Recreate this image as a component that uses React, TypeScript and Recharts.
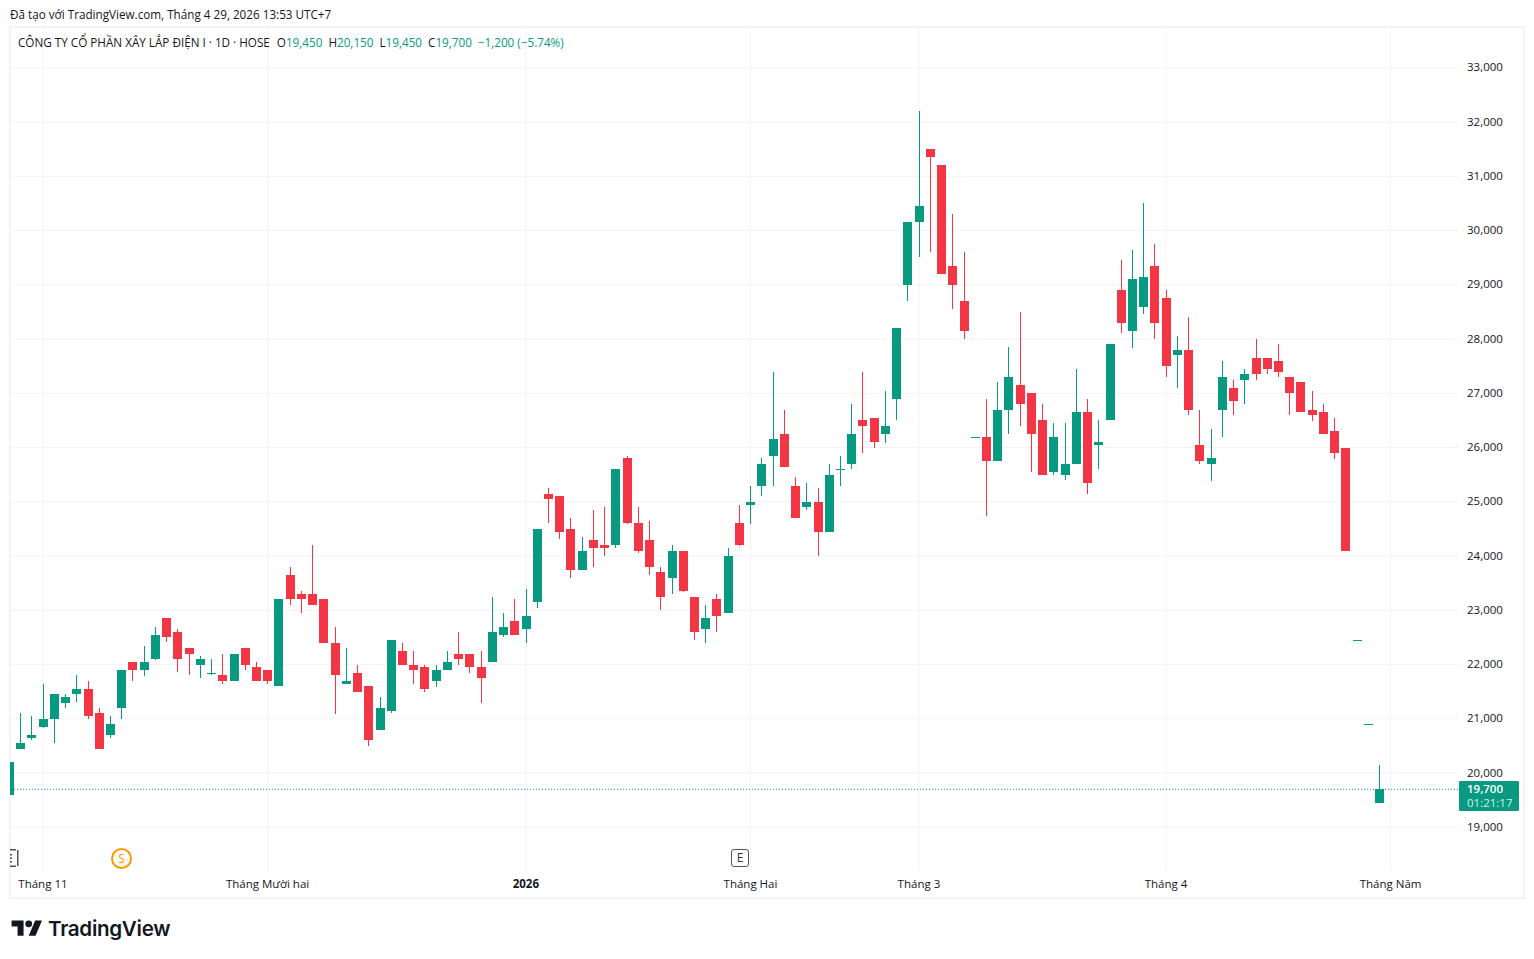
import React from 'react';
import { Bar, CartesianGrid, ComposedChart, ReferenceLine, XAxis, YAxis } from 'recharts';

// Daily OHLC. First session sits half outside the pane.
const opens = [
  19600, 20450, 20650, 20850, 21000, 21300, 21450, 21550, 21100, 20700, 21200, 22050, 21900, 22100, 22850, 22600,
  22300, 22000, 21850, 21800, 21700, 22300, 21950, 21900, 21600, 23650, 23300, 23300, 23200, 22400, 21650, 21850,
  21600, 20800, 21150, 22250, 22000, 21950, 21700, 21900, 22200, 22200, 21950, 22050, 22550, 22800, 22650, 23150,
  25150, 25100, 24500, 23750, 24300, 24200, 24200, 25800, 24600, 24300, 23700, 23600, 24100, 23250, 22650, 23200,
  22950, 24600, 24950, 25300, 25850, 26250, 25300, 24900, 25000, 24450, 25600, 25700, 26500, 26550, 26250, 26900,
  29000, 30150, 31500, 31200, 29350, 28700, 26200, 26200, 25750, 26700, 27150, 27000, 26500, 25550, 25500, 25700,
  26650, 26050, 26500, 28900, 28150, 28600, 29350, 28750, 27700, 27800, 26050, 25700, 26700, 27100, 27250, 27650,
  27650, 27600, 27300, 27200, 26700, 26650, 26300, 26000, 22450, 20900, 19450,
];
const highs = [
  20200, 21100, 21050, 21650, 21450, 21450, 21800, 21700, 21200, 21050, 21900, 22050, 22350, 22700, 22850, 22650,
  22300, 22150, 22100, 22200, 22200, 22300, 22050, 21900, 23200, 23800, 23350, 24200, 23200, 22700, 22300, 22000,
  21600, 21400, 22450, 22400, 22250, 22000, 22000, 22250, 22600, 22200, 22250, 23250, 22950, 23200, 23400, 24500,
  25250, 25100, 24700, 24350, 24850, 24900, 25600, 25850, 24900, 24650, 23800, 24200, 24100, 23250, 23100, 23300,
  24150, 24950, 25300, 25800, 27400, 26700, 25450, 25350, 25250, 25700, 25850, 26800, 27400, 26550, 27050, 28200,
  30150, 32200, 31500, 31200, 30300, 29600, 26200, 26900, 27200, 27850, 28500, 27000, 26800, 26450, 26450, 27450,
  26900, 26500, 27900, 29450, 29650, 30500, 29750, 28900, 28050, 28400, 26700, 26350, 27600, 27250, 27450, 28000,
  27650, 27900, 27300, 27200, 27050, 26800, 26550, 26000, 22450, 20900, 20150,
];
const lows = [
  19600, 20450, 20600, 20830, 20550, 21200, 21300, 21000, 20450, 20650, 21000, 21700, 21800, 22100, 22400, 21850,
  21800, 21750, 21800, 21650, 21700, 21900, 21700, 21650, 21600, 23100, 22950, 23100, 22400, 21100, 21650, 21500,
  20500, 20800, 21100, 22000, 21650, 21500, 21600, 21900, 22000, 21850, 21300, 22050, 22500, 22550, 22400, 23050,
  24600, 24300, 23600, 23750, 23800, 24000, 24150, 24600, 24050, 23650, 23000, 23300, 23350, 22450, 22400, 22600,
  22950, 24200, 24600, 25100, 25300, 25650, 24700, 24850, 24000, 24450, 25300, 25600, 25900, 26000, 26100, 26500,
  28700, 29500, 29600, 29200, 28550, 28000, 26200, 24750, 25750, 26250, 26400, 25550, 25500, 25500, 25400, 25700,
  25150, 25600, 26500, 28100, 27850, 28450, 28000, 27300, 27100, 26600, 25700, 25400, 26200, 26600, 26800, 27250,
  27350, 27300, 26600, 26650, 26500, 26250, 25800, 24100, 22450, 20900, 19450,
];
const closes = [
  20200, 20550, 20700, 21000, 21450, 21400, 21550, 21050, 20450, 20900, 21900, 21900, 22050, 22550, 22500, 22100,
  22200, 22100, 21850, 21700, 22200, 22000, 21700, 21700, 23200, 23200, 23200, 23100, 22400, 21800, 21700, 21500,
  20600, 21200, 22450, 22000, 21900, 21550, 21900, 22050, 22100, 21950, 21750, 22600, 22700, 22550, 22900, 24500,
  25050, 24450, 23750, 24100, 24150, 24150, 25600, 24600, 24100, 23800, 23250, 24100, 23350, 22600, 22850, 22900,
  24000, 24200, 25000, 25700, 26150, 25650, 24700, 25000, 24450, 25500, 25600, 26250, 26400, 26100, 26400, 28200,
  30150, 30450, 31350, 29200, 29000, 28150, 26200, 25750, 26700, 27300, 26800, 26250, 25500, 26200, 25700, 26650,
  25350, 26100, 27900, 28300, 29100, 29150, 28300, 27500, 27800, 26700, 25750, 25800, 27300, 26850, 27350, 27350,
  27450, 27400, 27000, 26650, 26600, 26250, 25900, 24100, 22450, 20900, 19700,
];

const priceTicks = [19000, 20000, 21000, 22000, 23000, 24000, 25000, 26000, 27000, 28000, 29000, 30000, 31000, 32000, 33000];
const monthTicks = [2, 22, 45, 65, 80, 102, 122];
const monthLabels = ['Tháng 11', 'Tháng Mười hai', '2026', 'Tháng Hai', 'Tháng 3', 'Tháng 4', 'Tháng Năm'];
const lastPrice = 19700;

const UP = '#089981';
const DOWN = '#F23645';
const GRID = '#F3F3F3';
const INK = '#131722';
const FONT = "'Open Sans', sans-serif";

const candles = opens.map((o, i) => ({
  session: i - 1,
  o,
  h: highs[i],
  l: lows[i],
  c: closes[i],
  range: [lows[i], highs[i]],
}));

const Candle = (props: any) => {
  const { x, y, width, height, payload } = props;
  const { o, h, l, c } = payload;
  const color = c >= o ? UP : DOWN;
  const mid = Math.round(x + width / 2 - 0.2);
  if (h === l) {
    return <rect x={mid - 4} y={Math.round(y)} width={9} height={1} fill={color} />;
  }
  const perUnit = height / (h - l);
  const top = Math.round(y + (h - Math.max(o, c)) * perUnit);
  const bottom = Math.round(y + (h - Math.min(o, c)) * perUnit);
  return (
    <g>
      <rect x={mid} y={Math.round(y)} width={1} height={Math.round(height)} fill={color} />
      <rect x={mid - 4} y={top} width={9} height={Math.max(bottom - top, 1)} fill={color} />
    </g>
  );
};

const MonthTick = (props: any) => {
  const { x, y, payload } = props;
  const label = monthLabels[monthTicks.indexOf(payload.value)];
  return (
    <text
      x={x}
      y={y + 9}
      textAnchor="middle"
      fontFamily={FONT}
      fontSize={11.5}
      fontWeight={label === '2026' ? 700 : 400}
      fill={INK}
    >
      {label}
    </text>
  );
};

const EventBadge = ({ left, letter }: { left: number; letter: string }) => (
  <div
    style={{
      position: 'absolute',
      left,
      top: 849,
      width: 18,
      height: 18,
      boxSizing: 'border-box',
      border: '1.5px solid #555',
      borderRadius: 3,
      background: '#fff',
      fontSize: 12,
      lineHeight: '15px',
      textAlign: 'center',
      color: '#333',
    }}
  >
    {letter}
  </div>
);

const Num = ({ children, gap = 0 }: { children: React.ReactNode; gap?: number }) => (
  <span style={{ color: UP, marginLeft: gap }}>{children}</span>
);

const App = () => {
  return (
    <div
      style={{
        position: 'absolute',
        left: 0,
        top: 0,
        width: 1534,
        height: 959,
        background: '#fff',
        fontFamily: FONT,
        color: INK,
        overflow: 'hidden',
      }}
    >
      <div style={{ position: 'absolute', left: 10, top: 6, fontSize: 11.7, whiteSpace: 'nowrap' }}>
        Đã tạo với TradingView.com, Tháng 4 29, 2026 13:53 UTC+7
      </div>

      {/* Frame around panes */}
      <div
        style={{
          position: 'absolute',
          left: 9,
          top: 26,
          width: 1516,
          height: 873,
          boxSizing: 'border-box',
          border: '2px solid #F3F3F3',
        }}
      />

      <div style={{ position: 'absolute', left: 0, top: 0 }}>
        <ComposedChart
          width={1534}
          height={959}
          data={candles}
          margin={{ top: 28, right: 10, bottom: 61, left: 10 }}
        >
          <CartesianGrid stroke={GRID} strokeWidth={1} syncWithTicks />
          <XAxis
            dataKey="session"
            type="number"
            domain={[-0.935, 128]}
            allowDataOverflow
            ticks={monthTicks}
            interval={0}
            height={27}
            axisLine={false}
            tickLine={false}
            tick={<MonthTick />}
          />
          <YAxis
            orientation="right"
            domain={[18194, 33734]}
            allowDataOverflow
            ticks={priceTicks}
            interval={0}
            width={66}
            axisLine={false}
            tickLine={false}
            tickMargin={3}
            tick={{ fill: INK, fontSize: 11.5, fontFamily: FONT, dy: -0.5 }}
            tickFormatter={(v: number) => v.toLocaleString('en-US')}
          />
          <ReferenceLine y={lastPrice} stroke={UP} strokeWidth={1} strokeDasharray="1 2" />
          <Bar dataKey="range" barSize={9} shape={<Candle />} isAnimationActive={false} />
        </ComposedChart>
      </div>

      {/* Legend line */}
      <div style={{ position: 'absolute', left: 18, top: 33.5, fontSize: 11.7, whiteSpace: 'nowrap' }}>
        CÔNG TY CỔ PHẦN XÂY LẮP ĐIỆN I · 1D · HOSE
        <span style={{ marginLeft: 7 }}>O</span>
        <Num>19,450</Num>
        <span style={{ marginLeft: 6 }}>H</span>
        <Num>20,150</Num>
        <span style={{ marginLeft: 6 }}>L</span>
        <Num>19,450</Num>
        <span style={{ marginLeft: 6 }}>C</span>
        <Num>19,700</Num>
        <Num gap={6}>−1,200 (−5.74%)</Num>
      </div>

      {/* Last price tag */}
      <div
        style={{
          position: 'absolute',
          left: 1459,
          top: 781,
          width: 60,
          height: 30,
          background: UP,
          borderRadius: 1,
          color: '#fff',
          fontSize: 11.5,
          lineHeight: '14px',
          paddingTop: 1,
          boxSizing: 'border-box',
          paddingLeft: 8,
        }}
      >
        <div style={{ fontWeight: 600 }}>19,700</div>
        <div style={{ color: '#D5EFE9' }}>01:21:17</div>
      </div>

      {/* Event markers: the first one is cut by the pane edge, only its right part shows */}
      <svg style={{ position: 'absolute', left: 10, top: 849 }} width={9} height={18} fill="#555">
        <rect x={0} y={0} width={6} height={1.5} />
        <rect x={0} y={16.5} width={6} height={1.5} />
        <rect x={7} y={1} width={1.5} height={16} />
        <rect x={0} y={5} width={2} height={1.5} />
        <rect x={0} y={8.5} width={2} height={1.5} />
        <rect x={0} y={12} width={2} height={1.5} />
      </svg>
      <EventBadge left={731} letter="E" />
      <div
        style={{
          position: 'absolute',
          left: 111,
          top: 848,
          width: 21,
          height: 21,
          boxSizing: 'border-box',
          border: '2px solid #FF9800',
          borderRadius: '50%',
          background: '#fff',
          color: '#FF9800',
          fontSize: 12,
          lineHeight: '17px',
          textAlign: 'center',
        }}
      >
        S
      </div>

      {/* Logo */}
      <svg style={{ position: 'absolute', left: 11, top: 917 }} width={32} height={24} viewBox="0 0 36 28" fill={INK}>
        <path d="M14 22H7V11H0V4h14v18ZM28 22h-8l7.5-18h8L28 22Z" />
        <circle cx="20" cy="8" r="4" />
      </svg>
      <div
        style={{
          position: 'absolute',
          left: 48,
          top: 916,
          fontFamily: 'Inter, sans-serif',
          fontSize: 20.6,
          fontWeight: 600,
          letterSpacing: -0.3,
          color: INK,
          whiteSpace: 'nowrap',
        }}
      >
        TradingView
      </div>
    </div>
  );
};

export default App;
